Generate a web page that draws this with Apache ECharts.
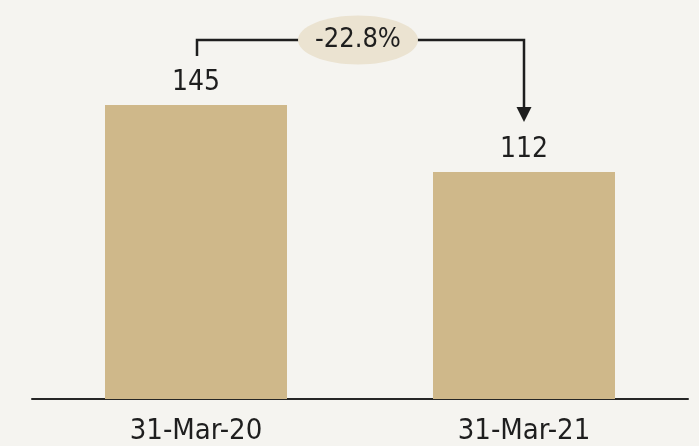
<!DOCTYPE html>
<html><head><meta charset="utf-8">
<script src="https://cdn.jsdelivr.net/npm/echarts@6/dist/echarts.min.js"></script>
<style>html,body{margin:0;padding:0;background:#f5f4f0;}#c{width:699px;height:446px;}</style>
</head><body><div id="c"></div>
<script>
const categories = ['31-Mar-20', '31-Mar-21'];
const values = [145, 112];
const changeLabel = '-22.8%';
const FONT = '"Liberation Sans Narrow", "DejaVu Sans Condensed", "Roboto", sans-serif';

const chart = echarts.init(document.getElementById('c'));
chart.setOption({
  backgroundColor: '#f5f4f0',
  animation: false,
  grid: {left: 32, right: 11, top: 105, bottom: 46},
  xAxis: {
    type: 'category', data: categories,
    axisLine: {lineStyle: {color: '#262626', width: 2}},
    axisTick: {show: false},
    axisLabel: {color: '#1e1e1e', fontSize: 29, fontFamily: FONT, margin: 18}
  },
  yAxis: {type: 'value', min: 0, max: 145, show: false, splitLine: {show: false}},
  series: [{
    type: 'bar', data: values, barWidth: 182,
    itemStyle: {color: '#cfb88a'},
    label: {show: true, position: 'top', distance: 8, color: '#1e1e1e', fontSize: 28, fontFamily: FONT}
  }]
});

const p1 = chart.convertToPixel({seriesIndex: 0}, [0, values[0]]);
const p2 = chart.convertToPixel({seriesIndex: 0}, [1, values[1]]);
const yTop = 40;
const leftBottom = p1[1] - 49;
const tipY = p2[1] - 50;
const midX = (p1[0] + p2[0]) / 2 - 2;
chart.setOption({
  graphic: [
    {type: 'polyline', shape: {points: [[p1[0] + 1, leftBottom], [p1[0] + 1, yTop], [p2[0], yTop], [p2[0], tipY - 14]]},
     style: {stroke: '#1e1e1e', lineWidth: 2.5, fill: null}, z: 10},
    {type: 'polygon', shape: {points: [[p2[0] - 7.5, tipY - 15], [p2[0] + 7.5, tipY - 15], [p2[0], tipY]]},
     style: {fill: '#1e1e1e'}, z: 10},
    {type: 'ellipse', shape: {cx: midX, cy: yTop, rx: 60, ry: 24.5},
     style: {fill: '#ebe3d1'}, z: 11},
    {type: 'text', x: midX, y: yTop, z: 12,
     style: {text: changeLabel, fill: '#1e1e1e', fontSize: 27, fontFamily: FONT, align: 'center', verticalAlign: 'middle'}}
  ]
});
</script></body></html>
